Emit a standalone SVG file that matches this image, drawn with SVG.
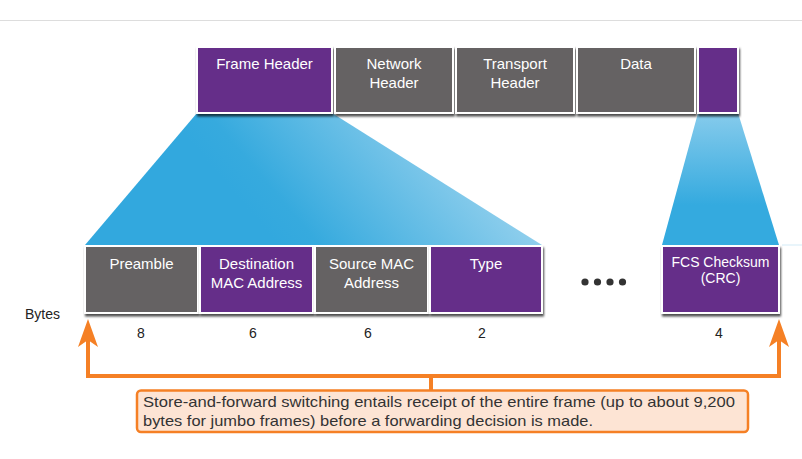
<svg xmlns="http://www.w3.org/2000/svg" width="802" height="459" viewBox="0 0 802 459">
<defs>
<style>
.box{stroke:#fff;stroke-width:2}
.p{fill:#652d89}
.g{fill:#656263}
.lbl{font-family:"Liberation Sans",Arial,sans-serif;font-size:15px;fill:#fff;text-anchor:middle}
.num{font-family:"Liberation Sans",Arial,sans-serif;font-size:14px;fill:#222;text-anchor:middle}
.note{font-family:"Liberation Sans",Arial,sans-serif;font-size:15px;fill:#333}
.conn{fill:none;stroke:#f58025;stroke-width:4}
.head{fill:#f58025}
</style>
<filter id="sh" x="-10%" y="-10%" width="120%" height="130%">
<feDropShadow dx="1" dy="2.5" stdDeviation="1.2" flood-color="#000" flood-opacity="0.7"/>
</filter>
<linearGradient id="gl" gradientUnits="userSpaceOnUse" x1="240" y1="200" x2="440" y2="30">
<stop offset="0" stop-color="#32a8de"/>
<stop offset="0.12" stop-color="#36aade"/>
<stop offset="1" stop-color="#b0dcf2"/>
</linearGradient>
<linearGradient id="gr" gradientUnits="userSpaceOnUse" x1="0" y1="113" x2="0" y2="205">
<stop offset="0" stop-color="#86cbec"/>
<stop offset="1" stop-color="#34aadf"/>
</linearGradient>
</defs>
<rect width="802" height="459" fill="#fff"/>
<line x1="0" y1="20.5" x2="802" y2="20.5" stroke="#ddd" stroke-width="1"/>
<line x1="782" y1="245" x2="802" y2="245" stroke="#e2f2fa" stroke-width="1.5"/>

<g id="zoom-header">
<polygon points="197,113 332,113 542,245 85,245" fill="url(#gl)"/>
</g>
<g id="zoom-fcs">
<polygon points="698,113 738,113 779,245 662,245" fill="url(#gr)"/>
</g>

<g id="top-frame">
<g id="frame-header"><rect class="box p" x="197" y="47" width="135" height="66" filter="url(#sh)"/><text class="lbl" x="264.5" y="69">Frame Header</text></g>
<g id="network-header"><rect class="box g" x="335" y="47" width="118" height="66" filter="url(#sh)"/><text class="lbl" x="394" y="69">Network</text><text class="lbl" x="394" y="88">Header</text></g>
<g id="transport-header"><rect class="box g" x="456" y="47" width="118" height="66" filter="url(#sh)"/><text class="lbl" x="515" y="69">Transport</text><text class="lbl" x="515" y="88">Header</text></g>
<g id="data"><rect class="box g" x="577" y="47" width="118" height="66" filter="url(#sh)"/><text class="lbl" x="636" y="69">Data</text></g>
<g id="frame-trailer"><rect class="box p" x="698" y="47" width="40" height="66" filter="url(#sh)"/></g>
</g>

<g id="bottom-frame">
<g id="preamble"><rect class="box g" x="85" y="246" width="113" height="67" filter="url(#sh)"/><text class="lbl" x="141.5" y="269">Preamble</text></g>
<g id="dest-mac"><rect class="box p" x="200" y="246" width="113" height="67" filter="url(#sh)"/><text class="lbl" x="256.5" y="269">Destination</text><text class="lbl" x="256.5" y="288">MAC Address</text></g>
<g id="src-mac"><rect class="box g" x="315" y="246" width="113" height="67" filter="url(#sh)"/><text class="lbl" x="371.5" y="269">Source MAC</text><text class="lbl" x="371.5" y="288">Address</text></g>
<g id="type"><rect class="box p" x="430" y="246" width="112" height="67" filter="url(#sh)"/><text class="lbl" x="486" y="269">Type</text></g>
<g id="ellipsis" fill="#333"><circle cx="585" cy="282" r="3.6"/><circle cx="597.5" cy="282" r="3.6"/><circle cx="610" cy="282" r="3.6"/><circle cx="622.5" cy="282" r="3.6"/></g>
<g id="fcs"><rect class="box p" x="662" y="246" width="117" height="67" filter="url(#sh)"/><text class="lbl" x="720.5" y="267" style="font-size:14px">FCS Checksum</text><text class="lbl" x="720.5" y="283" style="font-size:14px">(CRC)</text></g>
</g>

<g id="bytes">
<text class="num" x="25" y="319" style="text-anchor:start">Bytes</text>
<text class="num" x="141" y="338">8</text>
<text class="num" x="253" y="338">6</text>
<text class="num" x="368" y="338">6</text>
<text class="num" x="482" y="338">2</text>
<text class="num" x="719" y="338">4</text>
</g>

<g id="connectors">
<path class="conn" d="M88 338 V376 H779 V338"/>
<line class="conn" x1="431" y1="376" x2="431" y2="391"/>
<polygon class="head" points="88,319 98,347 88,340 78,347"/>
<polygon class="head" points="779,319 789,347 779,340 769,347"/>
</g>

<g id="callout">
<rect x="137" y="390.5" width="611" height="41.5" rx="4" fill="#fde4d4" stroke="#f58025" stroke-width="2.5"/>
<text class="note" x="143" y="407" textLength="592" lengthAdjust="spacingAndGlyphs">Store-and-forward switching entails receipt of the entire frame (up to about 9,200</text>
<text class="note" x="143" y="426" textLength="450" lengthAdjust="spacingAndGlyphs">bytes for jumbo frames) before a forwarding decision is made.</text>
</g>
</svg>
